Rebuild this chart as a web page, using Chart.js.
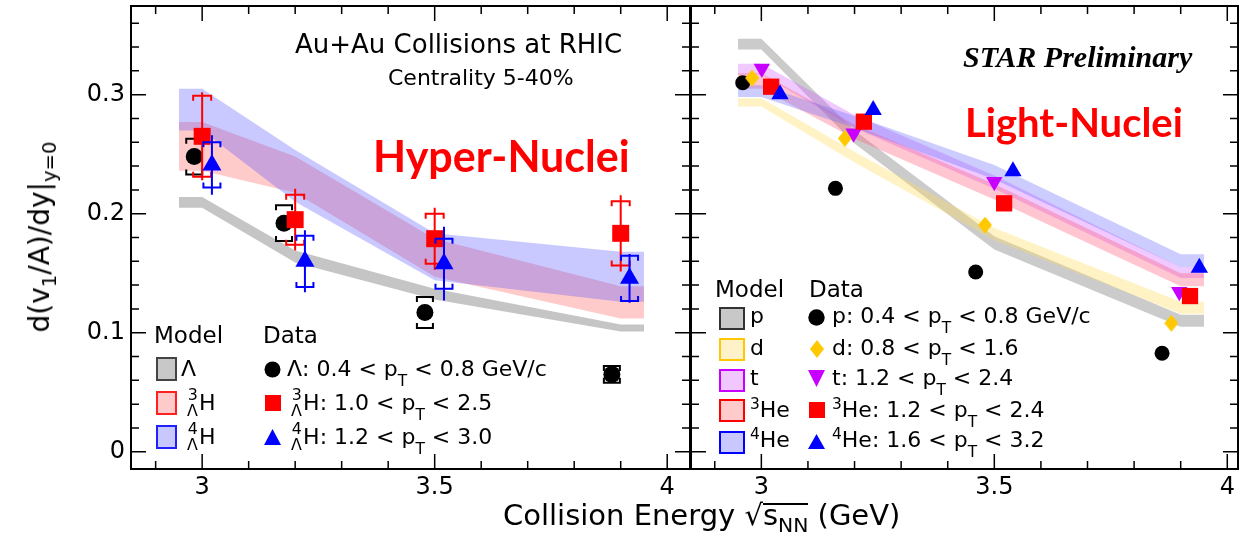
<!DOCTYPE html>
<html>
<head>
<meta charset="utf-8">
<script src="https://cdn.jsdelivr.net/npm/chart.js@4.4.1/dist/chart.umd.min.js"></script>
<style>
  html, body { margin: 0; padding: 0; background: #fff; }
  #wrap { position: relative; width: 1246px; height: 555px; overflow: hidden; font-family: 'DejaVu Sans', sans-serif; color: #000; }
  .box { position: absolute; top: 0; height: 555px; }
  #leftBox { left: 0; width: 691px; }
  #rightBox { left: 680px; width: 566px; }
  .lbl { position: absolute; white-space: nowrap; line-height: 1; }
  sub, sup { line-height: 0; font-size: 0.7em; }
  sub { vertical-align: -0.62em; }
  sup { vertical-align: 0.5em; }
  .pre { display: inline-block; position: relative; width: 0.55em; height: 1em; }
  .pre span { position: absolute; left: 0; font-size: 0.72em; line-height: 1; }
  .pre .u { top: -0.07em; left: 0.05em; }
  .pre .d { top: 0.97em; }
  .ol { display: inline-block; border-top: 2px solid #000; line-height: 0.7em; }
  .ol sub { vertical-align: -0.35em; }
  .sw { position: absolute; box-sizing: border-box; border: 2px solid; }
  .mk { position: absolute; }
  #ytitle { position: absolute; left: 40px; top: 237px; font-size: 28px; line-height: 1; white-space: nowrap;
            transform: translate(-50%, -50%) rotate(-90deg); }
  #ytitle sub { vertical-align: -0.35em; }
  .big { font-family: Lato, sans-serif; font-weight: bold; color: #ff0000; }
</style>
</head>
<body>
<div id="wrap">
  <div class="box" id="leftBox"><canvas id="leftChart"></canvas></div>
  <div class="box" id="rightBox"><canvas id="rightChart"></canvas></div>

  <div class="lbl" data-x="295" data-y="53" style="font-size:26px">Au+Au Collisions at RHIC</div>
  <div class="lbl" data-x="388" data-y="85" style="font-size:22px">Centrality 5-40%</div>
  <div class="lbl big" data-x="373" data-y="172" style="font-size:43px">Hyper-Nuclei</div>
  <div class="lbl" data-x="963" data-y="67" style="font-size:30px;font-family:'Liberation Serif',serif;font-weight:bold;font-style:italic">STAR Preliminary</div>
  <div class="lbl big" data-x="965" data-y="137" style="font-size:40px">Light-Nuclei</div>

  <!-- left legend -->
  <div class="lbl" data-x="154" data-y="343" style="font-size:23px">Model</div>
  <div class="lbl" data-x="263" data-y="343" style="font-size:23px">Data</div>
  <div class="sw" style="left:156px;top:357px;width:21px;height:24px;background:#c8c8c8;border-color:#444"></div>
  <div class="sw" style="left:156px;top:391px;width:21px;height:24px;background:#ffcaca;border-color:#ff2020"></div>
  <div class="sw" style="left:156px;top:425px;width:21px;height:24px;background:#c8c8ff;border-color:#2020ff"></div>
  <div class="lbl" data-x="181" data-y="376" style="font-size:22px">Λ</div>
  <div class="lbl" data-x="187" data-y="410" style="font-size:22px"><span class="pre"><span class="u">3</span><span class="d">Λ</span></span>H</div>
  <div class="lbl" data-x="187" data-y="444" style="font-size:22px"><span class="pre"><span class="u">4</span><span class="d">Λ</span></span>H</div>
  <svg class="mk" style="left:264px;top:361px" width="17" height="17"><circle cx="8.5" cy="8.5" r="8" fill="#000"/></svg>
  <svg class="mk" style="left:265px;top:395px" width="16" height="16"><rect x="0" y="0" width="16" height="16" fill="#ff0000"/></svg>
  <svg class="mk" style="left:264px;top:429px" width="17" height="16"><polygon points="8.5,0 17,16 0,16" fill="#0000ff"/></svg>
  <div class="lbl" data-x="287" data-y="376" style="font-size:22px">Λ: 0.4 &lt; p<sub>T</sub> &lt; 0.8 GeV/c</div>
  <div class="lbl" data-x="291" data-y="410" style="font-size:22px"><span class="pre"><span class="u">3</span><span class="d">Λ</span></span>H: 1.0 &lt; p<sub>T</sub> &lt; 2.5</div>
  <div class="lbl" data-x="291" data-y="444" style="font-size:22px"><span class="pre"><span class="u">4</span><span class="d">Λ</span></span>H: 1.2 &lt; p<sub>T</sub> &lt; 3.0</div>

  <!-- right legend -->
  <div class="lbl" data-x="715" data-y="297" style="font-size:23px">Model</div>
  <div class="lbl" data-x="809" data-y="297" style="font-size:23px">Data</div>
  <div class="sw" style="left:719px;top:307px;width:26px;height:23px;background:#c8c8c8;border-color:#333"></div>
  <div class="sw" style="left:719px;top:338px;width:26px;height:23px;background:#fff2c8;border-color:#ffc800"></div>
  <div class="sw" style="left:719px;top:369px;width:26px;height:23px;background:#f0c8ff;border-color:#c800ff"></div>
  <div class="sw" style="left:719px;top:399px;width:26px;height:23px;background:#ffcaca;border-color:#ff0000"></div>
  <div class="sw" style="left:719px;top:431px;width:26px;height:23px;background:#c8c8ff;border-color:#0000ff"></div>
  <div class="lbl" data-x="750" data-y="323" style="font-size:22px">p</div>
  <div class="lbl" data-x="750" data-y="355" style="font-size:22px">d</div>
  <div class="lbl" data-x="750" data-y="385" style="font-size:22px">t</div>
  <div class="lbl" data-x="750" data-y="417" style="font-size:22px"><sup>3</sup>He</div>
  <div class="lbl" data-x="750" data-y="447" style="font-size:22px"><sup>4</sup>He</div>
  <svg class="mk" style="left:808px;top:309px" width="17" height="17"><circle cx="8.5" cy="8.5" r="8.2" fill="#000"/></svg>
  <svg class="mk" style="left:810px;top:340px" width="14" height="18"><polygon points="7,0 14,9 7,18 0,9" fill="#ffc800"/></svg>
  <svg class="mk" style="left:808px;top:370px" width="17" height="17"><polygon points="0,0 17,0 8.5,17" fill="#c800ff"/></svg>
  <svg class="mk" style="left:809px;top:402px" width="16" height="16"><rect x="0" y="0" width="16" height="16" fill="#ff0000"/></svg>
  <svg class="mk" style="left:808px;top:434px" width="17" height="15"><polygon points="8.5,0 17,15 0,15" fill="#0000ff"/></svg>
  <div class="lbl" data-x="832" data-y="323" style="font-size:22px">p: 0.4 &lt; p<sub>T</sub> &lt; 0.8 GeV/c</div>
  <div class="lbl" data-x="832" data-y="355" style="font-size:22px">d: 0.8 &lt; p<sub>T</sub> &lt; 1.6</div>
  <div class="lbl" data-x="832" data-y="385" style="font-size:22px">t: 1.2 &lt; p<sub>T</sub> &lt; 2.4</div>
  <div class="lbl" data-x="832" data-y="417" style="font-size:22px"><sup>3</sup>He: 1.2 &lt; p<sub>T</sub> &lt; 2.4</div>
  <div class="lbl" data-x="832" data-y="447" style="font-size:22px"><sup>4</sup>He: 1.6 &lt; p<sub>T</sub> &lt; 3.2</div>

  <!-- axis titles -->
  <div class="lbl" data-x="503" data-y="525" style="font-size:29px">Collision Energy √<span class="ol">s<sub>NN</sub></span> (GeV)</div>
  <div id="ytitle">d(v<sub>1</sub>/A)/dy|<sub>y=0</sub></div>
</div>

<script>
// axis ticks
const xTickVals = [3, 3.5, 4];
const xTickLabels = ['3', '3.5', '4'];
const yTickVals = [0, 0.1, 0.2, 0.3];
const yTickLabels = ['0', '0.1', '0.2', '0.3'];

// model bands (same energies for both panels)
const modelX = [2.95, 3.0, 3.2, 3.5, 3.9, 3.95];

// left panel: hyper-nuclei
const lamModelLo = [0.205, 0.205, 0.159, 0.128, 0.101, 0.101];
const lamModelHi = [0.214, 0.214, 0.169, 0.137, 0.107, 0.107];
const h3ModelLo = [0.236, 0.236, 0.2175, 0.147, 0.112, 0.112];
const h3ModelHi = [0.277, 0.277, 0.248, 0.179, 0.139, 0.139];
const h4ModelLo = [0.270, 0.270, 0.210, 0.144, 0.126, 0.126];
const h4ModelHi = [0.305, 0.305, 0.2535, 0.1835, 0.168, 0.168];

const lamX = [2.983, 3.176, 3.479, 3.881];
const lamY = [0.248, 0.192, 0.117, 0.065];
const lamSys = [0.015, 0.015, 0.013, 0.007];

const h3X = [3.0, 3.2, 3.5, 3.9];
const h3Y = [0.265, 0.195, 0.179, 0.1835];
const h3Stat = [0.037, 0.026, 0.026, 0.032];
const h3Sys = [0.034, 0.021, 0.021, 0.027];

const h4X = [3.021, 3.221, 3.52, 3.919];
const h4Y = [0.241, 0.160, 0.158, 0.1457];
const h4Stat = [0.025, 0.026, 0.031, 0.0205];
const h4Sys = [0.019, 0.0215, 0.021, 0.019];

// right panel: light nuclei
const pModelLo = [0.338, 0.338, 0.259, 0.170, 0.105, 0.105];
const pModelHi = [0.347, 0.347, 0.270, 0.181, 0.115, 0.115];
const dModelLo = [0.290, 0.290, 0.243, 0.178, 0.116, 0.116];
const dModelHi = [0.297, 0.297, 0.252, 0.188, 0.126, 0.126];
const tModelLo = [0.317, 0.317, 0.272, 0.221, 0.146, 0.146];
const tModelHi = [0.326, 0.326, 0.283, 0.232, 0.155, 0.155];
const he3ModelLo = [0.305, 0.305, 0.263, 0.212, 0.139, 0.139];
const he3ModelHi = [0.318, 0.318, 0.275, 0.225, 0.150, 0.150];
const he4ModelLo = [0.298, 0.298, 0.272, 0.229, 0.155, 0.155];
const he4ModelHi = [0.308, 0.308, 0.282, 0.241, 0.166, 0.166];

const pX = [2.960, 3.159, 3.460, 3.860];
const pY = [0.310, 0.2213, 0.151, 0.0827];
const dX = [2.980, 3.179, 3.480, 3.880];
const dY = [0.314, 0.2633, 0.1905, 0.108];
const tX = [3.001, 3.198, 3.500, 3.897];
const tY = [0.322, 0.2675, 0.2269, 0.1345];
const he3X = [3.021, 3.220, 3.521, 3.920];
const he3Y = [0.3067, 0.2773, 0.2087, 0.1308];
const he4X = [3.040, 3.240, 3.540, 3.940];
const he4Y = [0.3003, 0.2871, 0.2356, 0.1545];

const yMin = -0.0145, yMax = 0.3745;

function pts(xs, ys) {
    return xs.map((x, i) => ({x: x, y: ys[i]}));
}

function band(lo, hi, color, order) {
    return [
        {data: pts(modelX, lo), borderWidth: 0, borderColor: 'rgba(0,0,0,0)', pointRadius: 0, fill: false, order: order},
        {data: pts(modelX, hi), borderWidth: 0, borderColor: 'rgba(0,0,0,0)', pointRadius: 0, fill: '-1', backgroundColor: color, order: order}
    ];
}

function marks(xs, ys, style, color, radius, extra) {
    return Object.assign({
        data: pts(xs, ys),
        showLine: false,
        pointStyle: style,
        pointRadius: radius,
        pointHoverRadius: radius,
        pointBackgroundColor: color,
        pointBorderWidth: 0,
        order: 0
    }, extra || {});
}

function diamond(w, h, color) {
    const c = document.createElement('canvas');
    c.width = w;
    c.height = h;
    const g = c.getContext('2d');
    g.fillStyle = color;
    g.beginPath();
    g.moveTo(w / 2, 0);
    g.lineTo(w, h / 2);
    g.lineTo(w / 2, h);
    g.lineTo(0, h / 2);
    g.closePath();
    g.fill();
    return c;
}

// inward ticks on all four sides + frame
const frameTicks = {
    id: 'frameTicks',
    afterDraw(chart) {
        const ctx = chart.ctx, a = chart.chartArea;
        const x = chart.scales.x, y = chart.scales.y;
        ctx.save();
        ctx.strokeStyle = '#000';
        ctx.lineWidth = 1.5;
        ctx.beginPath();
        for (let k = Math.ceil(x.min * 10); k <= Math.floor(x.max * 10); k++) {
            const px = x.getPixelForValue(k / 10);
            const len = k % 5 === 0 ? 15 : 8;
            ctx.moveTo(px, a.bottom); ctx.lineTo(px, a.bottom - len);
            ctx.moveTo(px, a.top); ctx.lineTo(px, a.top + len);
        }
        for (let k = Math.ceil(y.min * 50); k <= Math.floor(y.max * 50); k++) {
            const py = y.getPixelForValue(k / 50);
            const len = k % 5 === 0 ? 15 : 8;
            ctx.moveTo(a.left, py); ctx.lineTo(a.left + len, py);
            ctx.moveTo(a.right, py); ctx.lineTo(a.right - len, py);
        }
        ctx.stroke();
        ctx.lineWidth = 2;
        ctx.strokeRect(a.left, a.top, a.right - a.left, a.bottom - a.top);
        ctx.restore();
    }
};

// stat. error lines and syst. brackets, drawn under their markers
const errorBars = {
    id: 'errorBars',
    beforeDatasetDraw(chart, args) {
        const ds = chart.data.datasets[args.index];
        if (!ds.stat && !ds.sys) return;
        const ctx = chart.ctx, x = chart.scales.x, y = chart.scales.y;
        ctx.save();
        ctx.strokeStyle = ds.errColor;
        ctx.lineWidth = 2;
        ds.data.forEach((p, i) => {
            const px = x.getPixelForValue(p.x);
            ctx.beginPath();
            if (ds.stat) {
                ctx.moveTo(px, y.getPixelForValue(p.y - ds.stat[i]));
                ctx.lineTo(px, y.getPixelForValue(p.y + ds.stat[i]));
            }
            if (ds.sys) {
                const w = ds.capW, t = 5;
                const top = y.getPixelForValue(p.y + ds.sys[i]);
                const bot = y.getPixelForValue(p.y - ds.sys[i]);
                ctx.moveTo(px - w, top + t); ctx.lineTo(px - w, top); ctx.lineTo(px + w, top); ctx.lineTo(px + w, top + t);
                ctx.moveTo(px - w, bot - t); ctx.lineTo(px - w, bot); ctx.lineTo(px + w, bot); ctx.lineTo(px + w, bot - t);
            }
            ctx.stroke();
        });
        ctx.restore();
    }
};

function makeScales(xMin, xMax, showY) {
    return {
        x: {
            type: 'linear', min: xMin, max: xMax,
            grid: {display: false, drawTicks: false},
            border: {display: false},
            afterBuildTicks: s => { s.ticks = xTickVals.map(v => ({value: v})); },
            afterFit: s => { s.height = 86; s.paddingLeft = 0; s.paddingRight = 0; },
            ticks: {
                font: {family: 'DejaVu Sans', size: 24}, color: '#000', padding: 4,
                maxRotation: 0, autoSkip: false,
                callback: v => xTickLabels[xTickVals.indexOf(v)]
            }
        },
        y: {
            type: 'linear', min: yMin, max: yMax, display: showY,
            grid: {display: false, drawTicks: false},
            border: {display: false},
            afterBuildTicks: s => { s.ticks = yTickVals.map(v => ({value: v})); },
            afterFit: s => {
                s.width = showY ? 131 : 0;
                s.paddingTop = 0;
                s.paddingBottom = 0;
            },
            ticks: {
                font: {family: 'DejaVu Sans', size: 24}, color: '#000', padding: 6,
                callback: v => yTickLabels[yTickVals.indexOf(v)]
            }
        }
    };
}

function baseOptions(xMin, xMax, showY, padding) {
    return {
        responsive: true,
        maintainAspectRatio: false,
        animation: false,
        devicePixelRatio: 1,
        layout: {padding: padding, autoPadding: false},
        elements: {line: {tension: 0}},
        plugins: {legend: {display: false}, tooltip: {enabled: false}},
        scales: makeScales(xMin, xMax, showY)
    };
}

new Chart(document.getElementById('leftChart'), {
    type: 'line',
    data: {
        datasets: [
            marks(h4X, h4Y, 'triangle', '#0000ff', 11, {stat: h4Stat, sys: h4Sys, errColor: '#0000ff', capW: 8.5}),
            marks(h3X, h3Y, 'rect', '#ff0000', 12, {stat: h3Stat, sys: h3Sys, errColor: '#ff0000', capW: 9, order: 1}),
            marks(lamX, lamY, 'circle', '#000000', 8.5, {sys: lamSys, errColor: '#000000', capW: 8, order: 2}),
            ...band(lamModelLo, lamModelHi, 'rgba(150,150,150,0.55)', 13),
            ...band(h3ModelLo, h3ModelHi, 'rgba(255,80,80,0.3)', 12),
            ...band(h4ModelLo, h4ModelHi, 'rgba(60,60,255,0.28)', 11)
        ]
    },
    options: baseOptions(2.847, 4.049, true, {top: 6, right: 1, left: 0, bottom: 0}),
    plugins: [frameTicks, errorBars]
});

new Chart(document.getElementById('rightChart'), {
    type: 'line',
    data: {
        datasets: [
            marks(he4X, he4Y, 'triangle', '#0000ff', 10),
            marks(he3X, he3Y, 'rect', '#ff0000', 11.5),
            marks(tX, tY, 'triangle', '#c800ff', 9.5, {pointRotation: 180}),
            marks(dX, dY, diamond(14, 17, '#ffc800'), '#ffc800', 8),
            marks(pX, pY, 'circle', '#000000', 7.5),
            ...band(pModelLo, pModelHi, 'rgba(160,160,160,0.55)', 15),
            ...band(dModelLo, dModelHi, 'rgba(255,220,90,0.35)', 14),
            ...band(tModelLo, tModelHi, 'rgba(210,100,255,0.35)', 13),
            ...band(he3ModelLo, he3ModelHi, 'rgba(255,90,120,0.35)', 12),
            ...band(he4ModelLo, he4ModelHi, 'rgba(110,110,255,0.35)', 11)
        ]
    },
    options: baseOptions(2.849, 4.023, false, {top: 6, right: 8, left: 11, bottom: 0}),
    plugins: [frameTicks]
});

// put each text label's baseline at its data-y
document.querySelectorAll('.lbl').forEach(el => {
    const m = document.createElement('span');
    m.style.cssText = 'display:inline-block;width:0;height:0;';
    el.insertBefore(m, el.firstChild);
    el.style.left = el.dataset.x + 'px';
    el.style.top = (parseFloat(el.dataset.y) - m.offsetTop) + 'px';
});
</script>
</body>
</html>
